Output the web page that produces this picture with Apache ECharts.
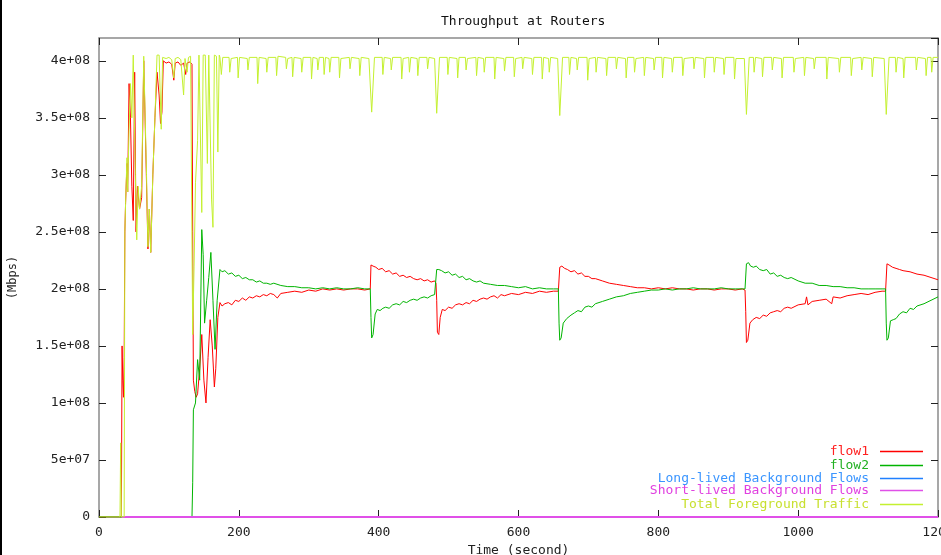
<!DOCTYPE html>
<html><head><meta charset="utf-8">
<script src="https://cdn.jsdelivr.net/npm/echarts@6/dist/echarts.min.js"></script>
<style>html,body{margin:0;padding:0;background:#fff}#c{width:941px;height:555px}</style>
</head><body><div id="c"></div>
<script>
const chartTitle = 'Throughput at Routers';
const xAxisTitle = 'Time (second)';
const yAxisTitle = '(Mbps)';
const seriesNames = ['flow1', 'flow2', 'Long-lived Background Flows', 'Short-lived Background Flows', 'Total Foreground Traffic'];
const xTickLabels = ['0', '200', '400', '600', '800', '1000', '1200'];
const yTickLabels = ['0', '5e+07', '1e+08', '1.5e+08', '2e+08', '2.5e+08', '3e+08', '3.5e+08', '4e+08'];

// [time (s), throughput]
const flow1 = [
[0,0],[32,0],[33,1.5e8],[34,1.2e8],[35,1.05e8],[36,1.4e8],[37,2.5e8],[38,2.75e8],[40,3.1e8],[41,2.85e8],[43,3.8e8],[45,3.5e8],[47,2.9e8],[49,2.6e8],[51,3.9e8],[53,2.5e8],[55,2.9e8],[58,2.7e8],[61,2.8e8],[64,4.0e8],[67,3.2e8],[70,2.35e8],[72,2.7e8],[74,2.32e8],[77,3.0e8],[80,3.5e8],[83,3.9e8],[86,3.7e8],[88,3.45e8],[90,3.55e8],[92,4.0e8],[96,3.98e8],[100,3.99e8],[104,3.97e8],[107,3.83e8],[109,3.98e8],[113,3.99e8],[117,3.96e8],[121,3.98e8],[124,3.88e8],[126,3.98e8],[130,3.99e8],[133,3.97e8],
[134,2.5e8],[135,1.2e8],[137,1.1e8],[139,1.05e8],[141,1.08e8],[144,1.3e8],[147,1.6e8],[150,1.2e8],[153,1.0e8],[156,1.4e8],[159,1.73e8],[162,1.5e8],[165,1.14e8],[167,1.3e8],[170,1.75e8],[173,1.88e8],[176,1.85e8],[180,1.87e8],
[185,1.88e8],[190,1.86e8],[195,1.9e8],[200,1.89e8],[205,1.92e8],[210,1.9e8],[215,1.93e8],[220,1.92e8],[225,1.94e8],[230,1.93e8],[235,1.95e8],[240,1.94e8],[245,1.96e8],[250,1.95e8],[255,1.92e8],[260,1.96e8],[270,1.97e8],[280,1.98e8],[290,1.97e8],[300,1.99e8],[310,1.98e8],[320,2.0e8],[330,1.99e8],[340,2.0e8],[350,1.99e8],[360,2.0e8],[370,2.0e8],[380,1.99e8],[388,2.0e8],
[389,2.21e8],[392,2.2e8],[396,2.19e8],[400,2.17e8],[405,2.18e8],[410,2.15e8],[415,2.16e8],[420,2.13e8],[425,2.14e8],[430,2.11e8],[435,2.12e8],[440,2.1e8],[445,2.11e8],[450,2.09e8],[455,2.08e8],[460,2.09e8],[465,2.07e8],[470,2.08e8],[475,2.06e8],[480,2.07e8],[482,2.05e8],
[483,1.9e8],[484,1.62e8],[486,1.6e8],[488,1.75e8],[491,1.82e8],[495,1.81e8],[500,1.84e8],[505,1.83e8],[510,1.86e8],[515,1.87e8],[520,1.86e8],[525,1.88e8],[530,1.87e8],[535,1.9e8],[540,1.89e8],[545,1.91e8],[550,1.92e8],[555,1.91e8],[560,1.93e8],[565,1.94e8],[570,1.92e8],[575,1.95e8],[580,1.94e8],[590,1.96e8],[600,1.95e8],[610,1.97e8],[620,1.96e8],[630,1.98e8],[640,1.97e8],[650,1.98e8],[657,1.98e8],
[659,2.19e8],[662,2.2e8],[666,2.18e8],[670,2.17e8],[675,2.15e8],[680,2.16e8],[685,2.13e8],[690,2.14e8],[695,2.11e8],[700,2.11e8],[705,2.09e8],[710,2.09e8],[720,2.07e8],[730,2.05e8],[740,2.04e8],[750,2.03e8],[760,2.02e8],[770,2.01e8],[780,2.01e8],[790,2.0e8],[800,2.01e8],[810,2.0e8],[820,2.01e8],[830,2.0e8],[840,2.0e8],[850,1.99e8],[860,2.0e8],[870,2.0e8],[880,1.99e8],[890,2.0e8],[900,2.0e8],[910,1.99e8],[920,2.0e8],[924,1.99e8],
[925,1.8e8],[926,1.53e8],[928,1.55e8],[931,1.7e8],[935,1.73e8],[940,1.75e8],[945,1.74e8],[950,1.77e8],[955,1.76e8],[960,1.79e8],[965,1.8e8],[970,1.81e8],[975,1.8e8],[980,1.83e8],[985,1.84e8],[990,1.83e8],[1000,1.86e8],[1010,1.87e8],[1012,1.93e8],[1014,1.86e8],[1020,1.89e8],[1030,1.9e8],[1040,1.91e8],[1048,1.87e8],[1050,1.93e8],[1060,1.92e8],[1070,1.94e8],[1080,1.95e8],[1090,1.96e8],[1100,1.95e8],[1110,1.97e8],[1120,1.98e8],[1125,1.98e8],
[1127,2.22e8],[1130,2.21e8],[1135,2.19e8],[1140,2.18e8],[1145,2.17e8],[1150,2.16e8],[1160,2.15e8],[1170,2.13e8],[1180,2.12e8],[1190,2.1e8],[1200,2.08e8]
];

const flow2 = [
[0,0],[133,0],[134,0.3e8],[135,0.94e8],[138,1.0e8],[141,1.38e8],[144,1.2e8],[147,2.52e8],[149,2.3e8],[151,1.7e8],[154,1.9e8],[157,2.1e8],[160,2.32e8],[163,1.9e8],[166,1.47e8],[169,1.9e8],[173,2.17e8],[176,2.15e8],[180,2.16e8],[185,2.13e8],[190,2.14e8],[195,2.11e8],[200,2.12e8],[205,2.09e8],[210,2.1e8],[215,2.08e8],[220,2.08e8],[225,2.06e8],[230,2.07e8],[235,2.05e8],[240,2.05e8],[245,2.04e8],[250,2.05e8],[260,2.03e8],[270,2.02e8],[280,2.02e8],[290,2.01e8],[300,2.01e8],[310,2.0e8],[320,2.01e8],[330,2.0e8],[340,2.01e8],[350,2.0e8],[360,2.0e8],[370,2.01e8],[380,2.0e8],[388,2.0e8],
[389,1.75e8],[390,1.57e8],[392,1.6e8],[395,1.78e8],[398,1.82e8],[402,1.81e8],[406,1.83e8],[410,1.84e8],[415,1.83e8],[420,1.86e8],[425,1.87e8],[430,1.86e8],[435,1.89e8],[440,1.88e8],[445,1.9e8],[450,1.91e8],[455,1.9e8],[460,1.92e8],[465,1.93e8],[470,1.92e8],[475,1.94e8],[480,1.95e8],[482,1.95e8],
[483,2.17e8],[486,2.17e8],[490,2.16e8],[495,2.14e8],[500,2.15e8],[505,2.12e8],[510,2.13e8],[515,2.1e8],[520,2.11e8],[525,2.08e8],[530,2.09e8],[535,2.07e8],[540,2.06e8],[545,2.07e8],[550,2.05e8],[560,2.04e8],[570,2.03e8],[580,2.03e8],[590,2.02e8],[600,2.01e8],[610,2.02e8],[620,2.0e8],[630,2.01e8],[640,2.0e8],[650,2.0e8],[657,2.0e8],
[658,1.7e8],[659,1.55e8],[661,1.57e8],[664,1.7e8],[669,1.74e8],[675,1.77e8],[680,1.79e8],[685,1.81e8],[690,1.8e8],[695,1.84e8],[700,1.85e8],[705,1.84e8],[710,1.87e8],[720,1.89e8],[730,1.91e8],[740,1.93e8],[750,1.94e8],[760,1.96e8],[770,1.97e8],[780,1.98e8],[790,1.99e8],[800,1.99e8],[810,2.0e8],[820,1.99e8],[830,2.0e8],[840,2.0e8],[850,2.01e8],[860,2.0e8],[870,2.0e8],[880,2.0e8],[890,2.01e8],[900,2.0e8],[910,2.0e8],[920,2.0e8],[924,2.0e8],
[926,2.22e8],[929,2.23e8],[932,2.2e8],[936,2.19e8],[940,2.2e8],[945,2.17e8],[950,2.16e8],[955,2.17e8],[960,2.13e8],[965,2.14e8],[970,2.11e8],[975,2.12e8],[980,2.1e8],[985,2.09e8],[990,2.1e8],[1000,2.07e8],[1010,2.05e8],[1020,2.05e8],[1030,2.03e8],[1040,2.03e8],[1050,2.02e8],[1060,2.02e8],[1070,2.01e8],[1080,2.01e8],[1090,2.0e8],[1100,2.0e8],[1110,2.0e8],[1120,2.0e8],[1125,2.0e8],
[1126,1.7e8],[1127,1.55e8],[1129,1.57e8],[1132,1.72e8],[1136,1.73e8],[1140,1.74e8],[1145,1.78e8],[1150,1.8e8],[1155,1.79e8],[1160,1.83e8],[1165,1.82e8],[1170,1.85e8],[1180,1.87e8],[1190,1.9e8],[1200,1.93e8]
];

const longLived = [[33,0],[1200,0]];
const shortLived = [[33,0],[1200,0]];

const totalForeground = [
[0,0],[30,0],[31,0.65e8],[32,0],[36,0],[37,2.5e8],[38,2.75e8],[40,3.15e8],[41,2.85e8],[43,3.4e8],[45,3.8e8],[47,3.5e8],[49,4.05e8],[51,4.05e8],[52,3.0e8],[54,2.43e8],[56,2.9e8],[58,2.7e8],[61,2.9e8],[64,4.04e8],[66,4.04e8],[68,3.0e8],[70,2.37e8],[72,2.7e8],[74,2.32e8],[77,3.0e8],[80,3.5e8],[83,4.05e8],[86,4.05e8],[89,3.4e8],[91,4.03e8],[96,4.02e8],[100,4.03e8],[104,4.01e8],[107,3.85e8],[109,4.02e8],[113,4.03e8],[117,4.01e8],[121,3.7e8],[123,4.02e8],[126,3.9e8],[128,4.03e8],[131,4.04e8],[133,4.05e8],
[134,1.6e8],[136,2.2e8],[138,2.93e8],[141,3.3e8],[143,4.05e8],[145,4.05e8],[147,2.67e8],[149,4.05e8],[152,4.05e8],[155,3.1e8],[157,4.05e8],[159,4.05e8],[161,2.78e8],[163,2.54e8],[165,4.05e8],[168,4.04e8],[170,3.2e8],[172,4.05e8],
[173,4.03e8],[175,3.88e8],[177,4.03e8],[186,4.03e8],[187,3.9e8],[189,4.02e8],[198,4.03e8],[199,3.85e8],[201,4.03e8],[212,4.02e8],[213,3.92e8],[215,4.03e8],[226,4.03e8],[227,3.8e8],[229,4.03e8],[239,4.02e8],[240,3.9e8],[242,4.03e8],[253,4.03e8],[254,3.87e8],[256,4.04e8],[267,4.03e8],[268,3.93e8],[270,4.02e8],[276,4.03e8],[277,3.86e8],[279,4.03e8],[289,4.02e8],[290,3.9e8],[292,4.03e8],[303,4.03e8],[304,3.84e8],[306,4.03e8],[312,4.02e8],[313,3.92e8],[315,4.03e8],[321,4.03e8],[322,3.88e8],[324,4.03e8],[329,4.02e8],[330,3.9e8],[332,4.03e8],[343,4.03e8],[344,3.85e8],[346,4.02e8],[358,4.03e8],[359,3.93e8],[361,4.03e8],[372,4.02e8],[373,3.87e8],[375,4.03e8],
[386,4.02e8],[390,3.55e8],[394,4.03e8],[405,4.03e8],[406,3.88e8],[408,4.03e8],[417,4.02e8],[418,3.92e8],[420,4.03e8],[432,4.03e8],[433,3.84e8],[435,4.02e8],[443,4.03e8],[444,3.9e8],[446,4.03e8],[455,4.02e8],[456,3.87e8],[458,4.03e8],[469,4.03e8],[470,3.93e8],[472,4.03e8],
[480,4.02e8],[483,3.54e8],[487,4.03e8],[498,4.03e8],[499,3.88e8],[501,4.03e8],[512,4.02e8],[513,3.85e8],[515,4.03e8],[524,4.03e8],[525,3.92e8],[527,4.02e8],[539,4.03e8],[540,3.87e8],[542,4.03e8],[550,4.02e8],[551,3.9e8],[553,4.03e8],[565,4.03e8],[566,3.84e8],[568,4.03e8],[579,4.02e8],[580,3.91e8],[582,4.03e8],[593,4.03e8],[594,3.86e8],[596,4.02e8],[605,4.03e8],[606,3.93e8],[608,4.03e8],[619,4.02e8],[620,3.88e8],[622,4.03e8],[633,4.03e8],[634,3.84e8],[636,4.03e8],[643,4.02e8],[644,3.9e8],[646,4.03e8],
[656,4.02e8],[659,3.52e8],[663,4.03e8],[672,4.03e8],[673,3.88e8],[675,4.03e8],[683,4.02e8],[684,3.92e8],[686,4.03e8],[698,4.03e8],[699,3.83e8],[701,4.02e8],[710,4.03e8],[711,3.9e8],[713,4.03e8],[725,4.02e8],[726,3.87e8],[728,4.03e8],[739,4.03e8],[740,3.93e8],[742,4.03e8],[753,4.02e8],[754,3.85e8],[756,4.03e8],[765,4.03e8],[766,3.9e8],[768,4.02e8],[779,4.03e8],[780,3.87e8],[782,4.03e8],[793,4.02e8],[794,3.92e8],[796,4.03e8],[805,4.03e8],[806,3.85e8],[808,4.03e8],[819,4.02e8],[820,3.9e8],[822,4.03e8],[834,4.03e8],[835,3.87e8],[837,4.02e8],[850,4.03e8],[851,3.93e8],[853,4.03e8],[865,4.02e8],[866,3.85e8],[868,4.03e8],[879,4.03e8],[880,3.9e8],[882,4.03e8],[893,4.02e8],[894,3.88e8],[896,4.03e8],[908,4.03e8],[909,3.84e8],[911,4.02e8],
[923,4.02e8],[926,3.53e8],[930,4.03e8],[936,4.03e8],[937,3.9e8],[939,4.03e8],[948,4.02e8],[949,3.86e8],[951,4.03e8],[962,4.03e8],[963,3.92e8],[965,4.03e8],[976,4.02e8],[977,3.85e8],[979,4.03e8],[993,4.03e8],[994,3.9e8],[996,4.02e8],[1008,4.03e8],[1009,3.87e8],[1011,4.03e8],[1022,4.02e8],[1023,3.93e8],[1025,4.03e8],[1040,4.03e8],[1041,3.84e8],[1043,4.03e8],[1058,4.02e8],[1059,3.9e8],[1061,4.03e8],[1075,4.03e8],[1076,3.87e8],[1078,4.02e8],[1090,4.03e8],[1091,3.92e8],[1093,4.03e8],[1105,4.02e8],[1106,3.86e8],[1108,4.03e8],
[1123,4.02e8],[1126,3.53e8],[1130,4.03e8],[1139,4.03e8],[1140,3.9e8],[1142,4.03e8],[1150,4.02e8],[1151,3.85e8],[1153,4.03e8],[1168,4.03e8],[1169,3.92e8],[1171,4.03e8],[1182,4.02e8],[1183,3.87e8],[1185,4.03e8],[1190,4.03e8],[1191,3.9e8],[1193,4.03e8],[1200,4.03e8]
];

const seriesData = [flow1, flow2, longLived, shortLived, totalForeground];
const lineColors = ['#ff0000', '#00b400', '#2080ff', '#e050e8', '#c4f030'];
const textColors = ['#ff2020', '#22b022', '#3a95ff', '#e040e0', '#c8e030'];
const lineWidths = [1, 1, 1, 2, 1];
const legendRowY = [453, 467, 480, 492, 506];

const FONT = 'DejaVu Sans Mono';
const X_INT = 200, Y_INT = 5e7;

const chart = echarts.init(document.getElementById('c'), null, {renderer: 'canvas'});

const axisCommon = {
  axisLine: {show: true, onZero: false, lineStyle: {color: '#8a8a8a', width: 1.5}},
  axisTick: {show: true, inside: true, length: 7, lineStyle: {color: '#222', width: 1}},
  splitLine: {show: false}
};

const option = {
  animation: false,
  backgroundColor: '#fff',
  title: {
    text: chartTitle, left: 436, top: 10,
    textStyle: {fontFamily: FONT, fontSize: 13, fontWeight: 'normal', color: '#111'}
  },
  grid: {left: 99, right: 3, top: 38, bottom: 38, containLabel: false, outerBoundsMode: 'none'},
  xAxis: [
    Object.assign({}, axisCommon, {
      type: 'value', position: 'bottom', min: 0, max: 1200, interval: X_INT,
      name: xAxisTitle, nameLocation: 'middle', nameGap: 25,
      nameTextStyle: {fontFamily: FONT, fontSize: 13, color: '#222'},
      axisLabel: {margin: 9, fontFamily: FONT, fontSize: 13, color: '#222',
        formatter: v => xTickLabels[Math.round(v / X_INT)] || ''}
    }),
    Object.assign({}, axisCommon, {
      type: 'value', position: 'top', min: 0, max: 1200, interval: X_INT,
      axisLabel: {show: false}
    })
  ],
  yAxis: [
    Object.assign({}, axisCommon, {
      type: 'value', position: 'left', min: 0, max: 4.2e8, interval: Y_INT,
      name: yAxisTitle, nameLocation: 'middle', nameGap: 80,
      nameTextStyle: {fontFamily: FONT, fontSize: 12, color: '#222'},
      axisLabel: {margin: 9, fontFamily: FONT, fontSize: 13, color: '#222', showMaxLabel: false,
        formatter: v => (v <= 4e8 + 1 ? (yTickLabels[Math.round(v / Y_INT)] || '') : '')}
    }),
    Object.assign({}, axisCommon, {
      type: 'value', position: 'right', min: 0, max: 4.2e8, interval: Y_INT,
      axisLabel: {show: false}
    })
  ],
  legend: seriesNames.map((n, i) => ({
    data: [{name: n, textStyle: {color: textColors[i]}}],
    right: 18, top: legendRowY[i] - 8, orient: 'horizontal', align: 'right',
    icon: 'rect', itemWidth: 43, itemHeight: 1.5, padding: 0, selectedMode: false,
    textStyle: {fontFamily: FONT, fontSize: 13, padding: [0, 6, 0, 0]}
  })),
  graphic: [{type: 'rect', left: 0, top: 0, shape: {width: 2, height: 555}, style: {fill: '#000'}, silent: true}],
  series: seriesNames.map((n, i) => ({
    name: n, type: 'line', xAxisIndex: 0, yAxisIndex: 0,
    data: seriesData[i], showSymbol: false, symbol: 'none',
    color: lineColors[i],
    lineStyle: {color: lineColors[i], width: lineWidths[i]},
    itemStyle: {color: lineColors[i]},
    emphasis: {disabled: true}
  }))
};
chart.setOption(option);
</script>
</body></html>
